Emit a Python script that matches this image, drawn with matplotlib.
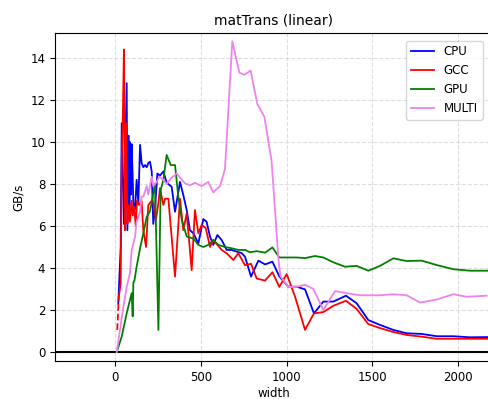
import numpy as np
import matplotlib
matplotlib.use("Agg")
import matplotlib.pyplot as plt

# -------------------------------
# data
# -------------------------------
cpu_w = [19, 33, 39, 52, 68, 72, 80, 84, 87, 92, 97, 103, 107, 117, 126, 136, 146, 155,
         165, 175, 185, 194, 204, 214, 223, 233, 247, 262, 282, 301, 330, 350, 379, 398,
         418, 437, 457, 486, 515, 534, 554, 573, 597, 622, 651, 680, 709, 738, 758, 793,
         836, 875, 918, 958, 1011, 1059, 1108, 1160, 1215, 1273, 1347, 1409, 1477, 1545,
         1623, 1701, 1788, 1876, 1973, 2070, 2175]
cpu_v = [2.3, 5.0, 10.9, 6.1, 12.8, 5.8, 10.3, 6.5, 10.0, 7.5, 9.9, 8.3, 7.1, 6.8, 8.2,
         7.1, 9.86, 9.0, 8.8, 8.9, 8.8, 9.0, 9.06, 8.6, 6.1, 6.8, 8.5, 8.4, 8.6, 8.06,
         7.87, 6.68, 8.1, 7.48, 6.76, 5.8, 5.65, 5.17, 6.33, 6.2, 5.49, 5.1, 5.57, 5.33,
         4.86, 4.86, 4.78, 4.71, 4.54, 3.59, 4.35, 4.17, 4.3, 3.6, 3.11, 3.11, 2.98, 1.84,
         2.4, 2.4, 2.68, 2.32, 1.52, 1.29, 1.05, 0.89, 0.86, 0.75, 0.75, 0.7, 0.71]

gcc_dash_w = [13, 22]
gcc_dash_v = [1.05, 2.6]
gcc_w = [22, 33, 39, 45, 52, 58, 64, 72, 80, 87, 97, 103, 111, 121, 128, 140, 155, 165,
         181, 194, 214, 223, 239, 253, 262, 282, 292, 311, 350, 379, 398, 418, 447, 466,
         486, 505, 529, 554, 573, 599, 622, 651, 690, 719, 758, 793, 826, 875, 918, 958,
         1001, 1050, 1108, 1160, 1215, 1273, 1347, 1409, 1477, 1545, 1623, 1701, 1788,
         1876, 1973, 2070, 2175]
gcc_v = [2.6, 3.27, 9.0, 10.9, 14.4, 5.8, 10.9, 6.1, 7.0, 6.2, 7.2, 6.5, 6.9, 6.0, 7.2,
         7.0, 7.2, 5.8, 5.0, 7.0, 7.2, 7.1, 6.3, 7.1, 7.8, 7.0, 7.3, 7.3, 3.59, 7.3, 5.8,
         6.6, 3.9, 6.76, 5.65, 6.05, 5.9, 5.0, 5.33, 5.08, 4.86, 4.7, 4.38, 4.7, 4.13, 4.2,
         3.5, 3.4, 3.8, 3.1, 3.71, 2.63, 1.05, 1.84, 1.9, 2.2, 2.44, 2.05, 1.33, 1.14, 0.95,
         0.81, 0.73, 0.63, 0.63, 0.63, 0.63]

gpu_w = [10, 39, 68, 97, 103, 107, 113, 126, 146, 165, 185, 204, 223, 233, 253, 266, 282,
         301, 325, 350, 369, 389, 418, 457, 486, 515, 544, 573, 603, 641, 680, 719, 758,
         787, 826, 875, 918, 958, 1011, 1059, 1108, 1166, 1215, 1273, 1341, 1409, 1477,
         1545, 1623, 1701, 1788, 1876, 1973, 2070, 2175]
gpu_v = [0.0, 0.73, 1.84, 2.8, 1.7, 3.3, 3.4, 4.06, 4.94, 5.65, 6.44, 6.7, 7.56, 8.0, 1.05,
         7.7, 8.2, 9.38, 8.9, 8.9, 7.4, 6.3, 5.5, 5.4, 5.1, 5.0, 5.1, 5.33, 5.1, 5.0, 4.94,
         4.86, 4.86, 4.75, 4.8, 4.73, 4.98, 4.5, 4.5, 4.5, 4.47, 4.57, 4.5, 4.27, 4.06, 4.1,
         3.87, 4.1, 4.46, 4.33, 4.35, 4.14, 3.94, 3.87, 3.87]

multi_w = [10, 29, 49, 68, 87, 97, 117, 126, 146, 155, 165, 185, 194, 214, 223, 243, 258,
           282, 301, 330, 360, 379, 408, 437, 466, 505, 544, 573, 612, 641, 684, 725, 754,
           791, 830, 871, 913, 953, 965, 1011, 1059, 1108, 1157, 1215, 1283, 1351, 1428,
           1545, 1621, 1701, 1778, 1876, 1973, 2050, 2167]
multi_v = [0.0, 1.05, 2.16, 3.1, 3.75, 4.86, 5.49, 6.2, 6.67, 7.4, 7.4, 7.9, 7.5, 8.35, 7.9,
           8.1, 8.35, 8.2, 8.0, 8.3, 8.5, 8.3, 8.03, 7.94, 8.06, 7.9, 8.1, 7.6, 7.9, 8.7,
           14.8, 13.3, 13.2, 13.4, 11.8, 11.2, 9.1, 4.4, 3.6, 3.1, 3.1, 3.2, 3.0, 2.0, 2.9,
           2.8, 2.7, 2.7, 2.75, 2.7, 2.35, 2.5, 2.75, 2.63, 2.68]

# -------------------------------
# plot
# -------------------------------
plt.rcParams["font.size"] = 8.5

fig = plt.figure(figsize=(4.88, 3.99), dpi=100)
ax = fig.add_axes([0.1127, 0.0952, 0.8975, 0.8221])

ax.grid(True, linestyle="--", color="#dddddd", linewidth=0.8)
ax.set_axisbelow(True)
ax.axhline(0, color="black", linewidth=1.5)

ax.plot(cpu_w, cpu_v, color="blue", linewidth=1.3, label="CPU")
ax.plot(gcc_dash_w, gcc_dash_v, color="red", linewidth=1.3, linestyle="--")
ax.plot(gcc_w, gcc_v, color="red", linewidth=1.3, label="GCC")
ax.plot(gpu_w, gpu_v, color="green", linewidth=1.3, label="GPU")
ax.plot(multi_w, multi_v, color="violet", linewidth=1.3, label="MULTI")

ax.set_xlim(-350, 2204)
ax.set_ylim(-0.43, 15.19)
ax.set_xticks([0, 500, 1000, 1500, 2000])
ax.set_yticks([0, 2, 4, 6, 8, 10, 12, 14])
ax.tick_params(labelsize=8.5)
ax.set_xlabel("width", fontsize=8.5, labelpad=2)
ax.set_ylabel("GB/s", fontsize=8.5)
ax.set_title("matTrans (linear)", fontsize=10)
ax.legend(loc="upper right", bbox_to_anchor=(0.99, 0.995), fontsize=8.5)

fig.savefig("out.png", dpi=100)
